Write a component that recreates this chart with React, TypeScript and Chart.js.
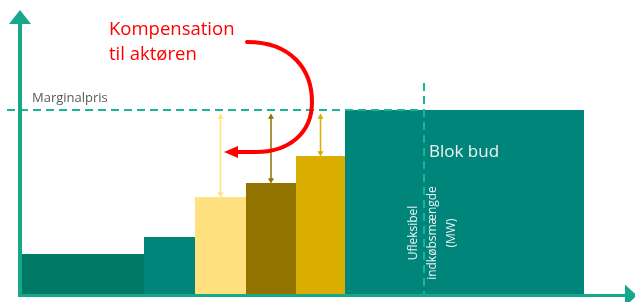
import React, { useEffect, useRef } from "react";
import { Chart, registerables } from "chart.js";
Chart.register(...registerables);

// ---- data (x in MW, y in price units) ----
const bidStart = [0, 124, 175, 226, 276];
const bidEnd = [124, 175, 226, 276, 325];
const bidPrice = [40, 57, 97, 111, 138];
const bidColors = ["#007A66", "#00857B", "#FFE17F", "#937300", "#D9AE00"];
const compensatedBids = [2, 3, 4];
const blockStart = 325;
const blockEnd = 564;
const blockPrice = 184;
const marginalPrice = 184;
const inflexibleQty = 404;

const titleLines = ["Kompensation", "til aktøren"];
const marginalLabel = "Marginalpris";
const blockLabel = "Blok bud";
const inflexLines = ["Ufleksibel", "indkøbsmængde", "(MW)"];

const FONT = "'Open Sans', sans-serif";

const overlay = {
  id: "overlay",
  afterDatasetsDraw(chart: any) {
    const ctx = chart.ctx;
    const xs = chart.scales.x;
    const ys = chart.scales.y;
    const X = (v: number) => xs.getPixelForValue(v);
    const Y = (v: number) => ys.getPixelForValue(v);
    ctx.save();

    // axes
    const axisColor = "#17A88B";
    ctx.fillStyle = axisColor;
    const x0 = X(0);
    const y0 = Y(0);
    ctx.fillRect(x0 - 2, 23, 4, y0 + 3 - 23);
    ctx.beginPath();
    ctx.moveTo(x0, 10);
    ctx.lineTo(x0 + 11, 24);
    ctx.lineTo(x0 - 11, 24);
    ctx.closePath();
    ctx.fill();
    ctx.fillRect(x0 - 2, y0, 627 - (x0 - 2), 3);
    ctx.beginPath();
    ctx.moveTo(637, y0 + 1.5);
    ctx.lineTo(625, y0 + 1.5 - 11);
    ctx.lineTo(625, y0 + 1.5 + 11);
    ctx.closePath();
    ctx.fill();

    // red compensation arrow
    ctx.strokeStyle = "#FF0000";
    ctx.fillStyle = "#FF0000";
    ctx.lineWidth = 4;
    ctx.lineCap = "round";
    ctx.beginPath();
    ctx.moveTo(X(227), Y(252));
    ctx.bezierCurveTo(X(272), Y(252), X(292), Y(224), X(292), Y(192));
    ctx.bezierCurveTo(X(292), Y(160), X(268), Y(142), X(236), Y(142));
    ctx.lineTo(X(217), Y(142));
    ctx.stroke();
    ctx.beginPath();
    ctx.moveTo(X(204), Y(142));
    ctx.lineTo(X(218), Y(142) - 6);
    ctx.lineTo(X(218), Y(142) + 6);
    ctx.closePath();
    ctx.fill();

    // texts
    ctx.textBaseline = "alphabetic";
    ctx.textAlign = "left";
    ctx.fillStyle = "#FF0000";
    ctx.font = `18.5px ${FONT}`;
    ctx.fillText(titleLines[0], 109, 35);
    ctx.fillText(titleLines[1], 109, 60);

    ctx.fillStyle = "#595959";
    ctx.font = `13px ${FONT}`;
    ctx.fillText(marginalLabel, 32, 102);

    ctx.fillStyle = "#F2F2F2";
    ctx.font = `17px ${FONT}`;
    ctx.fillText(blockLabel, 429, 157);

    ctx.font = `12px ${FONT}`;
    ctx.textAlign = "center";
    const bx = [417, 436, 455];
    inflexLines.forEach((t, i) => {
      ctx.save();
      ctx.translate(bx[i], 233);
      ctx.rotate(-Math.PI / 2);
      ctx.fillText(t, 0, 0);
      ctx.restore();
    });
    ctx.restore();
  },
};

export default function App() {
  const ref = useRef<HTMLCanvasElement>(null);
  useEffect(() => {
    if (!ref.current) return;
    const datasets: any[] = [];
    bidStart.forEach((s, i) => {
      datasets.push({
        data: [
          { x: s, y: 0 },
          { x: s, y: bidPrice[i] },
          { x: bidEnd[i], y: bidPrice[i] },
          { x: bidEnd[i], y: 0 },
        ],
        showLine: true,
        borderWidth: 0,
        borderColor: "rgba(0,0,0,0)",
        backgroundColor: bidColors[i],
        fill: "origin",
        pointRadius: 0,
        tension: 0,
        order: 10,
      });
    });
    datasets.push({
      data: [
        { x: blockStart, y: 0 },
        { x: blockStart, y: blockPrice },
        { x: blockEnd, y: blockPrice },
        { x: blockEnd, y: 0 },
      ],
      showLine: true,
      borderWidth: 0,
      borderColor: "rgba(0,0,0,0)",
      backgroundColor: "#00857B",
      fill: "origin",
      pointRadius: 0,
      tension: 0,
      order: 10,
    });
    // marginal price line
    datasets.push({
      data: [
        { x: -13, y: marginalPrice },
        { x: inflexibleQty, y: marginalPrice },
      ],
      showLine: true,
      borderColor: "#1DB39A",
      borderWidth: 2,
      borderDash: [8, 5],
      pointRadius: 0,
      fill: false,
      order: 2,
    });
    // inflexible quantity line
    datasets.push({
      data: [
        { x: inflexibleQty, y: 211 },
        { x: inflexibleQty, y: -2 },
      ],
      showLine: true,
      borderColor: "#1DB39A",
      borderWidth: 2,
      borderDash: [8, 5],
      pointRadius: 0,
      fill: false,
      order: 2,
    });
    // compensation arrows
    compensatedBids.forEach((i) => {
      const mid = (bidStart[i] + bidEnd[i]) / 2;
      datasets.push({
        data: [
          { x: mid, y: marginalPrice - 7 },
          { x: mid, y: bidPrice[i] + 3 },
        ],
        showLine: true,
        borderColor: bidColors[i],
        borderWidth: 1.5,
        pointStyle: "triangle",
        pointRadius: 3.5,
        pointRotation: [0, 180],
        pointBackgroundColor: bidColors[i],
        pointBorderColor: bidColors[i],
        pointBorderWidth: 0,
        fill: false,
        order: 1,
      });
    });

    const chart = new Chart(ref.current, {
      type: "scatter",
      data: { datasets },
      options: {
        animation: false,
        responsive: true,
        maintainAspectRatio: false,
        layout: { padding: 0, autoPadding: false },
        plugins: { legend: { display: false }, tooltip: { enabled: false } },
        events: [],
        scales: {
          x: { type: "linear", min: -20, max: 615, display: false },
          y: { type: "linear", min: -8, max: 294, display: false },
        },
      },
      plugins: [overlay],
    });
    return () => chart.destroy();
  }, []);
  return (
    <div style={{ position: "absolute", left: 0, top: 0, width: 635, height: 302, background: "#fff" }}>
      <canvas ref={ref} />
    </div>
  );
}
